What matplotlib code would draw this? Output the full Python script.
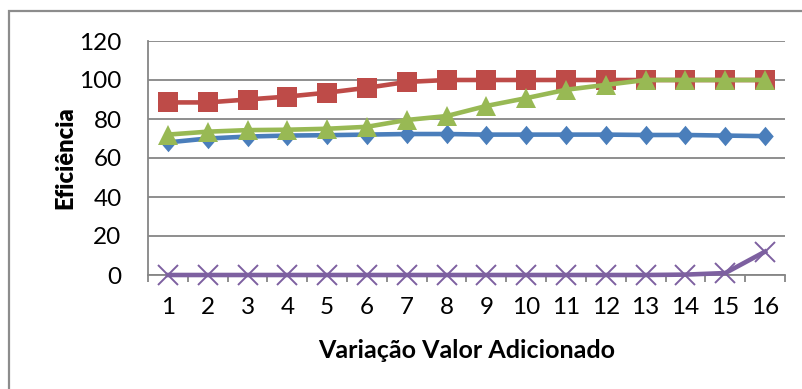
import matplotlib
matplotlib.use("Agg")
import matplotlib.pyplot as plt
from matplotlib.patches import Rectangle
from matplotlib.path import Path

plt.rcParams['font.family'] = ['Lato', 'DejaVu Sans']

categories = list(range(1, 17))
serie_azul = [68, 70, 71, 71.5, 71.7, 72, 72.3, 72.3, 72, 72, 72, 72, 71.8, 71.8, 71.5, 71.2]
serie_vermelha = [88.5, 88.5, 90, 91.5, 93.5, 96, 99, 100, 100, 100, 100, 100, 100, 100, 100, 100]
serie_verde = [72, 73.5, 74.3, 74.5, 75, 76, 79.5, 81.5, 86.7, 90.7, 95, 97.5, 100, 100, 100, 100]
serie_roxa = [0, 0, 0, 0, 0, 0, 0, 0, 0, 0, 0, 0, 0, 0.2, 1, 12]
y_ticks = [0, 20, 40, 60, 80, 100, 120]

W, H = 803, 389
fig = plt.figure(figsize=(W / 100, H / 100), dpi=100)
fig.patch.set_facecolor('white')

# outer chart frame (continues beyond the right and bottom edges)
fig.patches.append(Rectangle((9 / W, -0.1), 1.2, (H - 11) / H + 0.1,
                             transform=fig.transFigure, fill=False,
                             edgecolor='#8c8c8c', linewidth=1.6))

ax = fig.add_axes([148 / W, 1 - 275 / H, (785 - 148) / W, (275 - 41) / H])

# slightly tall diamond marker
diamond = Path([(0, 1), (0.85, 0), (0, -1), (-0.85, 0), (0, 1)],
               [Path.MOVETO, Path.LINETO, Path.LINETO, Path.LINETO, Path.CLOSEPOLY])

lw = 3.3
ax.plot(categories, serie_azul, color='#4a7ebb', lw=lw, marker=diamond,
        markersize=14, markeredgewidth=0, zorder=3)
ax.plot(categories, serie_vermelha, color='#be4b48', lw=lw, marker='s',
        markersize=15, markeredgewidth=0, zorder=4)
ax.plot(categories, serie_verde, color='#98b954', lw=lw, marker='^',
        markersize=15, markeredgewidth=0, zorder=5)
ax.plot(categories, serie_roxa, color='#7d60a0', lw=lw, marker='x',
        markersize=14, markeredgewidth=1.4, zorder=6, clip_on=False)

ax.set_xlim(0.5, 16.5)
ax.set_ylim(0, 120)
ax.set_yticks(y_ticks)
ax.set_yticklabels([str(v) for v in y_ticks])
ax.set_xticks(categories)
ax.set_xticklabels([str(c) for c in categories])
ax.set_xticks([c + 0.5 for c in [0] + categories], minor=True)

ax.grid(axis='y', color='#868686', linewidth=1.3, zorder=0)
ax.set_axisbelow(True)
for side in ('top', 'right'):
    ax.spines[side].set_visible(False)
for side in ('left', 'bottom'):
    ax.spines[side].set_color('#868686')
    ax.spines[side].set_linewidth(1.3)

ax.tick_params(axis='y', length=0, pad=19, labelsize=17.5)
ax.tick_params(axis='x', which='major', length=0, pad=16, labelsize=17.5)
ax.tick_params(axis='x', which='minor', length=5, width=1.3, color='#868686')

ax.set_xlabel('Variação Valor Adicionado', fontsize=18, fontweight='bold',
              va='center')
ax.set_ylabel('Eficiência', fontsize=17, fontweight='heavy', va='center')
ax.xaxis.set_label_coords(0.5, (275 - 350) / 234)
ax.yaxis.set_label_coords((65 - 148) / 637, 0.5)

fig.savefig('out.png', dpi=100, facecolor='white')
